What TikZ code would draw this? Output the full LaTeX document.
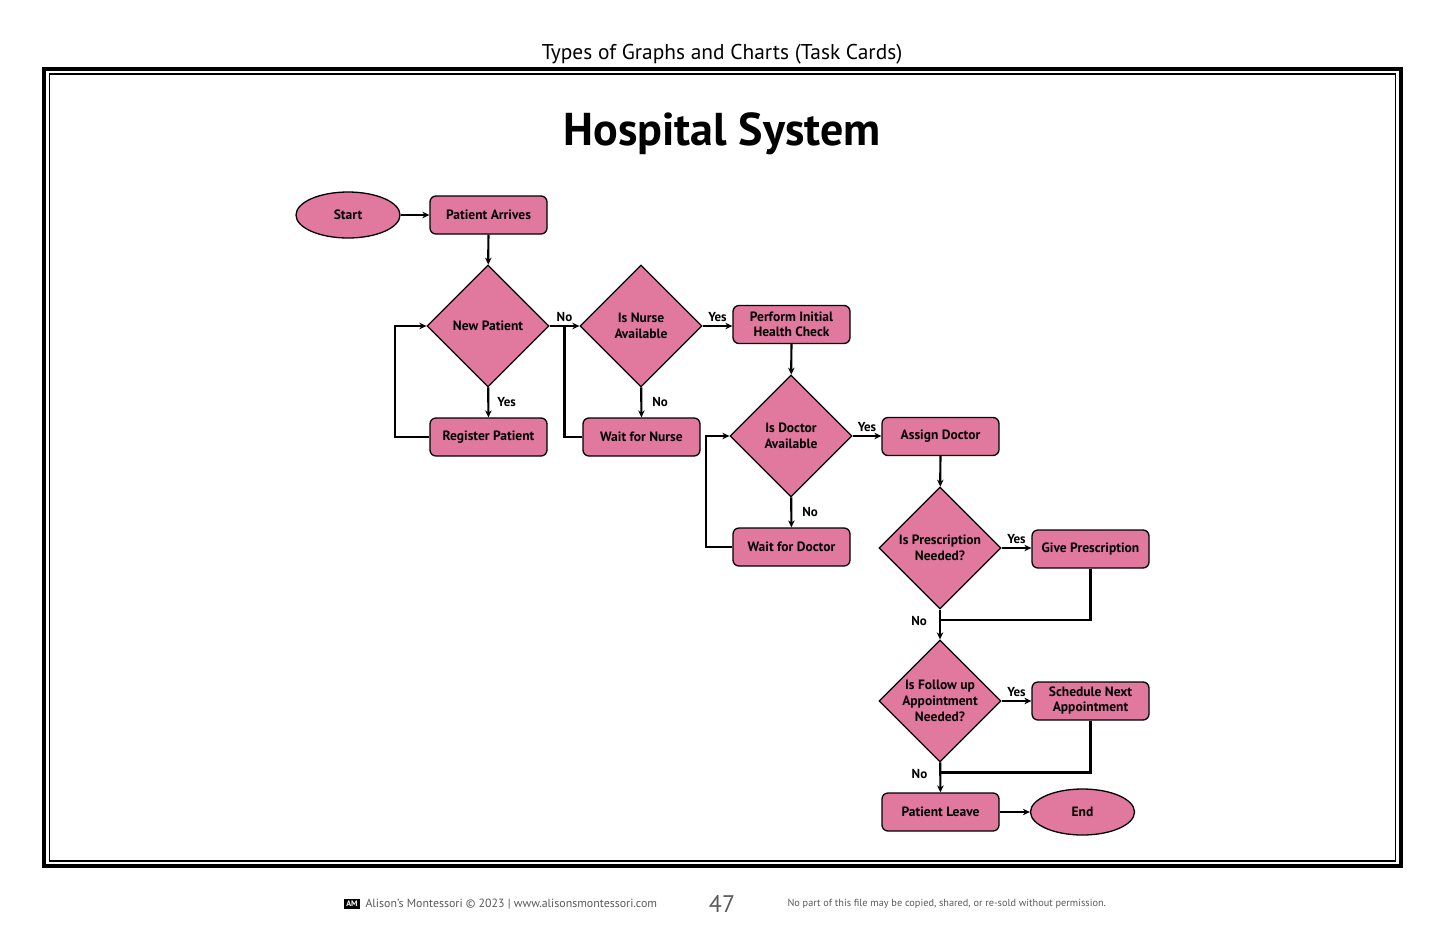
\documentclass[tikz,border=0pt]{standalone}
\usepackage{fontspec}
\setmainfont{PT Sans}
\usetikzlibrary{shapes.geometric,arrows.meta,calc}

\definecolor{rose}{RGB}{225,121,158}
\definecolor{footgray}{RGB}{90,90,90}

\tikzset{
  proc/.style={draw, line width=1.3pt, fill=rose, rounded corners=6pt,
    minimum width=117pt, minimum height=38pt, align=center,
    font=\bfseries\fontsize{13.5}{15}\selectfont},
  decide/.style={draw, line width=1.3pt, fill=rose, diamond, inner sep=0pt,
    minimum width=122pt, minimum height=122pt, align=center,
    font=\bfseries\fontsize{13.5}{16}\selectfont},
  term/.style={draw, line width=1.3pt, fill=rose, ellipse,
    minimum width=104pt, minimum height=46pt,
    font=\bfseries\fontsize{13.5}{15}\selectfont},
  arr/.style={line width=2.2pt, -{Stealth[length=7pt,width=6.5pt]}},
  link/.style={line width=2.2pt},
  lbl/.style={font=\bfseries\fontsize{13}{15}\selectfont, inner sep=3pt}
}

\begin{document}
\begin{tikzpicture}[x=1pt,y=-1pt]
  \useasboundingbox (0,0) rectangle (1445,935);

  % frame and headings
  \node (head) at (722,54) {\fontsize{21.4}{25}\selectfont Types of Graphs and Charts (Task Cards)};
  \draw[line width=4pt] (44,69) rectangle (1401,866);
  \draw[line width=1.3pt] (49.5,74) rectangle (1395.5,861);
  \node (title) at (722,134) {\bfseries\fontsize{46}{52}\selectfont Hospital System};

  % shapes
  \node[term] (start) at (348,215) {Start};
  \node[proc] (arrives) at (488.5,215) {Patient Arrives};
  \node[decide] (newpat) at (488,326) {New Patient};
  \node[proc] (register) at (488.5,437) {Register Patient};
  \node[decide] (nurse) at (641,326) {Is Nurse\\Available};
  \node[proc] (waitnurse) at (641.5,437) {Wait for Nurse};
  \node[proc] (check) at (791.5,324.5) {Perform Initial\\Health Check};
  \node[decide] (doctor) at (791,436) {Is Doctor\\Available};
  \node[proc] (waitdoc) at (791.5,547) {Wait for Doctor};
  \node[proc] (assign) at (940.5,436.5) {Assign Doctor};
  \node[decide] (presc) at (940,548) {Is Prescription\\Needed?};
  \node[proc] (give) at (1090.5,549) {Give Prescription};
  \node[decide] (follow) at (940,701) {Is Follow up\\Appointment\\Needed?};
  \node[proc] (sched) at (1090.5,701) {Schedule Next\\Appointment};
  \node[proc] (leave) at (940.5,812) {Patient Leave};
  \node[term] (end) at (1082.5,812) {End};

  % connectors
  \draw[arr] (start) -- (arrives);
  \draw[arr] (arrives) -- (newpat);
  \draw[arr] (newpat) -- node[lbl,right,xshift=5pt] {Yes} (register);
  \draw[arr] (register.west) -- ++(-34,0) |- (newpat.west);
  \draw[arr] (newpat.east) -- node[lbl,above] {No} (nurse.west);
  \draw[link] (waitnurse.west) -| ($(newpat.east)!0.5!(nurse.west)$);
  \draw[arr] (nurse) -- node[lbl,right,xshift=7pt] {No} (waitnurse);
  \draw[arr] (nurse.east) -- node[lbl,above] {Yes} (nurse.east -| check.west);
  \draw[arr] (check) -- (doctor);
  \draw[arr] (doctor) -- node[lbl,right,xshift=7pt] {No} (waitdoc);
  \draw[arr] (waitdoc.west) -- ++(-26,0) |- (doctor.west);
  \draw[arr] (doctor.east) -- node[lbl,above] {Yes} (doctor.east -| assign.west);
  \draw[arr] (assign) -- (presc);
  \draw[arr] (presc.east) -- node[lbl,above] {Yes} (presc.east -| give.west);
  \draw[arr] (presc) -- node[lbl,left,pos=0.38,xshift=-9pt] {No} (follow);
  \draw[link] (give.south) |- ($(presc.south)!0.35!(follow.north)$);
  \draw[arr] (follow.east) -- node[lbl,above] {Yes} (follow.east -| sched.west);
  \draw[arr] (follow) -- node[lbl,left,pos=0.38,xshift=-9pt] {No} (leave);
  \draw[link] (sched.south) |- ($(follow.south)!0.33!(leave.north)$);
  \draw[arr] (leave) -- (end);

  % footer
  \node[fill=black, text=white, inner sep=2pt, font=\bfseries\fontsize{8}{8}\selectfont] (logo) at (352,904) {AM};
  \node[anchor=west, text=footgray, font=\fontsize{11.9}{14}\selectfont] (owner) at (362,904) {Alison's Montessori © 2023 | www.alisonsmontessori.com};
  \node[text=footgray, font=\fontsize{24}{28}\selectfont] (page) at (722,904) {47};
  \node[anchor=west, text=footgray, font=\fontsize{10.3}{12}\selectfont] (rights) at (784,904) {No part of this file may be copied, shared, or re-sold without permission.};
\end{tikzpicture}
\end{document}
